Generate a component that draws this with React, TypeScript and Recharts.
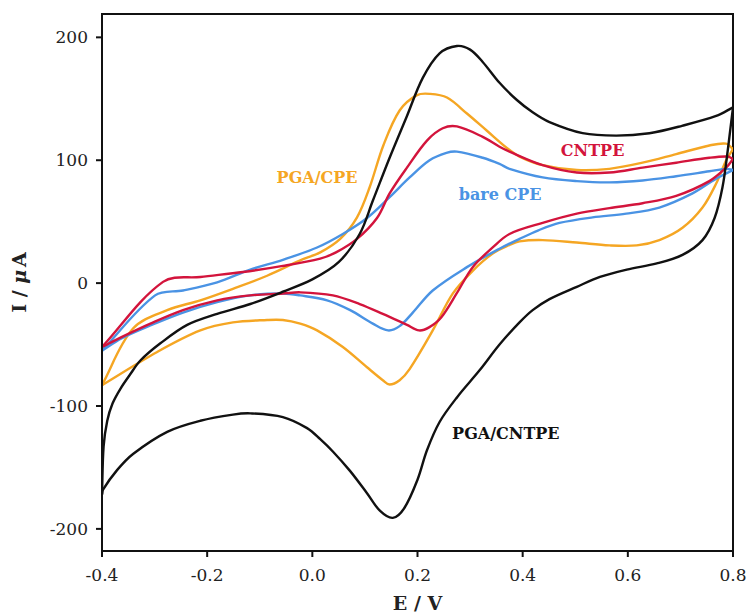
import { LineChart, Line, XAxis, YAxis, ReferenceArea, ReferenceDot } from "recharts"

const xTicks = [-0.4, -0.2, 0, 0.2, 0.4, 0.6, 0.8]
const yTicks = [-200, -100, 0, 100, 200]

// [E (V), I (uA)], each sweep sorted by E

// PGA/CNTPE
const pgaCntpeAnodic: [number, number][] = [
  [-0.4, -172], [-0.397, -133], [-0.39, -112], [-0.38, -98], [-0.365, -86], [-0.346, -74],
  [-0.327, -63], [-0.289, -49], [-0.238, -34], [-0.181, -25], [-0.118, -17], [-0.056, -7],
  [0.0, 3], [0.05, 17], [0.09, 40], [0.115, 67], [0.147, 102], [0.179, 135], [0.21, 167],
  [0.242, 187], [0.275, 193], [0.3, 190], [0.324, 180], [0.356, 163], [0.389, 149], [0.419, 139],
  [0.451, 131], [0.514, 122], [0.578, 120], [0.641, 122], [0.703, 128], [0.768, 136], [0.8, 143],
]
const pgaCntpeCathodic: [number, number][] = [
  [-0.4, -172], [-0.398, -168], [-0.371, -152], [-0.341, -139], [-0.276, -121], [-0.213, -112],
  [-0.151, -107], [-0.118, -106], [-0.056, -109], [-0.01, -118], [0.015, -127], [0.039, -137],
  [0.072, -153], [0.104, -171], [0.128, -185], [0.153, -191], [0.175, -183], [0.2, -160],
  [0.218, -136], [0.242, -113], [0.275, -93], [0.318, -71], [0.356, -50], [0.394, -32],
  [0.419, -22], [0.451, -13], [0.503, -3], [0.547, 5], [0.598, 11], [0.655, 16], [0.704, 23],
  [0.742, 35], [0.765, 53], [0.78, 78], [0.79, 108], [0.8, 143],
]

// CNTPE
const cntpeAnodic: [number, number][] = [
  [-0.4, -52], [-0.284, 1], [-0.213, 5], [-0.132, 9], [-0.056, 14], [0.015, 20], [0.045, 25],
  [0.085, 36], [0.123, 53], [0.147, 73], [0.18, 94], [0.218, 116], [0.248, 126], [0.275, 127.5],
  [0.324, 119], [0.356, 111], [0.375, 107], [0.438, 96], [0.503, 90], [0.565, 90], [0.628, 94],
  [0.692, 98], [0.755, 102], [0.79, 103], [0.8, 101],
]
const cntpeCathodic: [number, number][] = [
  [-0.4, -52], [-0.363, -44], [-0.308, -33], [-0.246, -22], [-0.181, -14], [-0.118, -10],
  [-0.056, -8.5], [-0.023, -7.5], [0.039, -10], [0.09, -17], [0.134, -25], [0.18, -34],
  [0.203, -38.5], [0.222, -36], [0.245, -28], [0.275, -8], [0.305, 13], [0.343, 29], [0.375, 40],
  [0.438, 49], [0.503, 56.5], [0.565, 61], [0.628, 65], [0.692, 71], [0.755, 83], [0.787, 94],
  [0.8, 101],
]

// bare CPE
const bareCpeAnodic: [number, number][] = [
  [-0.4, -55], [-0.299, -10], [-0.246, -6], [-0.181, 0.6], [-0.118, 11], [-0.056, 19],
  [0.009, 29], [0.058, 40], [0.104, 53], [0.147, 70], [0.185, 86], [0.223, 100], [0.255, 106],
  [0.275, 107], [0.324, 102], [0.356, 97], [0.375, 93], [0.438, 86], [0.503, 83], [0.565, 82],
  [0.628, 83.5], [0.692, 87], [0.755, 91], [0.787, 93], [0.8, 92],
]
const bareCpeCathodic: [number, number][] = [
  [-0.4, -55], [-0.363, -45], [-0.308, -34.5], [-0.246, -24], [-0.181, -15.5], [-0.118, -10],
  [-0.056, -8.5], [-0.023, -10], [0.028, -14], [0.072, -22], [0.115, -33], [0.144, -38.5],
  [0.166, -35], [0.191, -24], [0.229, -6], [0.294, 13], [0.356, 28], [0.394, 36], [0.43, 43],
  [0.47, 49], [0.533, 53.5], [0.597, 56.5], [0.66, 61.5], [0.723, 73], [0.768, 85], [0.8, 92],
]

// PGA/CPE
const pgaCpeAnodic: [number, number][] = [
  [-0.4, -83], [-0.341, -37], [-0.276, -22], [-0.213, -14], [-0.151, -4.6], [-0.086, 6],
  [-0.023, 18.5], [0.015, 25], [0.053, 36], [0.085, 53.5], [0.109, 78], [0.135, 112],
  [0.166, 140.5], [0.199, 153], [0.224, 154], [0.256, 151], [0.294, 138], [0.332, 124],
  [0.37, 110], [0.394, 103], [0.438, 96], [0.503, 92], [0.565, 93], [0.628, 98], [0.692, 105],
  [0.755, 112], [0.787, 113.5], [0.8, 109],
]
const pgaCpeCathodic: [number, number][] = [
  [-0.4, -83], [-0.295, -56], [-0.213, -38.5], [-0.151, -32], [-0.086, -30], [-0.056, -30],
  [-0.023, -33], [0.009, -38.5], [0.058, -52], [0.104, -68.5], [0.134, -79], [0.147, -82.5],
  [0.166, -79], [0.185, -70], [0.229, -38.5], [0.267, -8.6], [0.305, 10], [0.343, 24], [0.375, 31],
  [0.394, 34], [0.438, 35], [0.503, 33], [0.565, 30.7], [0.617, 30.7], [0.66, 35], [0.704, 45],
  [0.742, 61.5], [0.768, 81], [0.787, 100], [0.8, 109],
]

const BLACK = "#111111"
const RED = "#d3143c"
const BLUE = "#4a93e4"
const ORANGE = "#f5a623"
const FONT = "DejaVu Serif"

const toRows = (pts: [number, number][]) => pts.map(([E, I]) => ({ E, I }))

// smooth curve through every point, tangents scaled by chord length (no overshoot loops)
function smoothCurve(context: any) {
  let pts: [number, number][] = []
  return {
    areaStart() {},
    areaEnd() {},
    lineStart() {
      pts = []
    },
    point(x: number, y: number) {
      pts.push([+x, +y])
    },
    lineEnd() {
      const n = pts.length
      if (!n) return
      context.moveTo(pts[0][0], pts[0][1])
      const tan = pts.map((_, i) => {
        const a = pts[Math.max(0, i - 1)]
        const b = pts[Math.min(n - 1, i + 1)]
        const dx = b[0] - a[0]
        const dy = b[1] - a[1]
        const len = Math.hypot(dx, dy) || 1
        return [dx / len, dy / len]
      })
      for (let i = 0; i < n - 1; i++) {
        const p = pts[i]
        const q = pts[i + 1]
        const d = Math.hypot(q[0] - p[0], q[1] - p[1]) / 3
        context.bezierCurveTo(
          p[0] + tan[i][0] * d,
          p[1] + tan[i][1] * d,
          q[0] - tan[i + 1][0] * d,
          q[1] - tan[i + 1][1] * d,
          q[0],
          q[1]
        )
      }
    },
  }
}

const sweeps = [
  { key: "pgaCpeA", pts: pgaCpeAnodic, color: ORANGE },
  { key: "pgaCpeC", pts: pgaCpeCathodic, color: ORANGE },
  { key: "bareA", pts: bareCpeAnodic, color: BLUE },
  { key: "bareC", pts: bareCpeCathodic, color: BLUE },
  { key: "cntpeA", pts: cntpeAnodic, color: RED },
  { key: "cntpeC", pts: cntpeCathodic, color: RED },
  { key: "pgaCntpeA", pts: pgaCntpeAnodic, color: BLACK },
  { key: "pgaCntpeC", pts: pgaCntpeCathodic, color: BLACK },
]

const notes = [
  { text: "PGA/CPE", E: 0.009, I: 86, color: ORANGE },
  { text: "bare CPE", E: 0.357, I: 72, color: BLUE },
  { text: "CNTPE", E: 0.533, I: 108, color: RED },
  { text: "PGA/CNTPE", E: 0.368, I: -122, color: BLACK },
]

function YTitle(props: any) {
  const vb = props.viewBox
  const x = vb.x + 19
  const y = vb.y + vb.height / 2
  return (
    <text
      x={x}
      y={y}
      transform={`rotate(-90, ${x}, ${y})`}
      textAnchor="middle"
      dominantBaseline="central"
      fontFamily={FONT}
      fontWeight="bold"
      fontSize={19}
      fill="#222"
    >
      I / <tspan fontStyle="italic">μ</tspan>
      <tspan dx={3}>A</tspan>
    </text>
  )
}

function XTitle(props: any) {
  const vb = props.viewBox
  return (
    <text
      x={vb.x + vb.width / 2}
      y={vb.y + 52}
      textAnchor="middle"
      dominantBaseline="central"
      fontFamily={FONT}
      fontWeight="bold"
      fontSize={19}
      fill="#222"
    >
      E / V
    </text>
  )
}

export default function App() {
  return (
    <div style={{ position: "absolute", left: 0, top: 0, background: "#fff" }}>
      <LineChart width={750} height={614} margin={{ top: 14, right: 17, bottom: 0, left: 0 }}>
        <XAxis
          dataKey="E"
          type="number"
          domain={[-0.4, 0.8]}
          ticks={xTicks}
          allowDataOverflow
          height={63}
          tickSize={6}
          tickMargin={12}
          stroke={BLACK}
          strokeWidth={2}
          tick={{ fill: "#222", fontSize: 17, fontFamily: FONT }}
          tickFormatter={(v: number) => v.toFixed(1)}
          label={{ content: XTitle }}
        />
        <YAxis
          dataKey="I"
          type="number"
          domain={[-218, 219]}
          ticks={yTicks}
          allowDataOverflow
          width={102}
          tickSize={6}
          tickMargin={8}
          stroke={BLACK}
          strokeWidth={2}
          tick={{ fill: "#222", fontSize: 17, fontFamily: FONT }}
          label={{ content: YTitle }}
        />
        <ReferenceArea
          x1={-0.4}
          x2={0.8}
          y1={-218}
          y2={219}
          fill="none"
          fillOpacity={0}
          stroke={BLACK}
          strokeWidth={2}
        />
        {sweeps.map((s) => (
          <Line
            key={s.key}
            data={toRows(s.pts)}
            dataKey="I"
            type={smoothCurve as any}
            stroke={s.color}
            strokeWidth={2.4}
            dot={false}
            activeDot={false}
            isAnimationActive={false}
          />
        ))}
        {notes.map((n) => (
          <ReferenceDot
            key={n.text}
            x={n.E}
            y={n.I}
            r={0}
            fill="none"
            stroke="none"
            label={{
              value: n.text,
              position: "center",
              fill: n.color,
              fontSize: 16,
              fontWeight: "bold",
              fontFamily: FONT,
            }}
          />
        ))}
      </LineChart>
    </div>
  )
}
